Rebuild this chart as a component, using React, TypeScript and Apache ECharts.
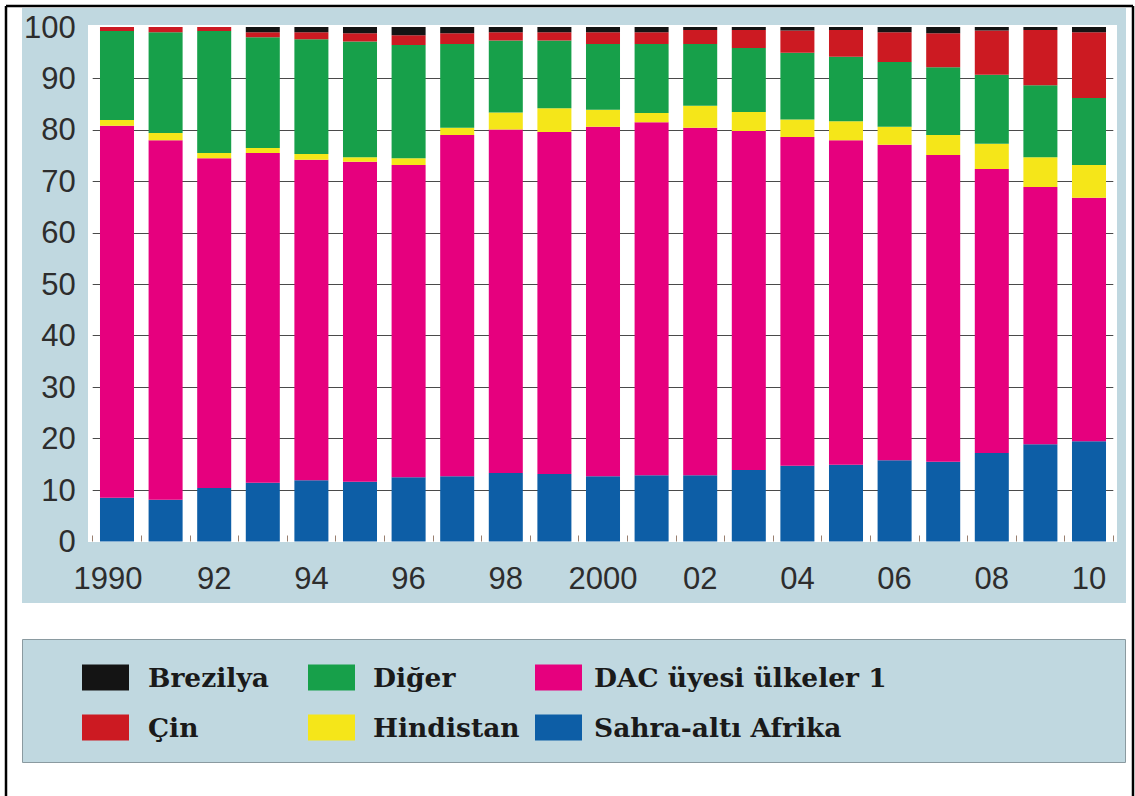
import React, { useEffect, useRef } from "react";
import * as echarts from "echarts";

const years = ["1990","1991","1992","1993","1994","1995","1996","1997","1998","1999","2000","2001","2002","2003","2004","2005","2006","2007","2008","2009","2010"];
const tickLabels = ["1990","","92","","94","","96","","98","","2000","","02","","04","","06","","08","","10"];
const yTicks = [0, 10, 20, 30, 40, 50, 60, 70, 80, 90, 100];

const sahraAltiAfrika = [8.5, 8.1, 10.4, 11.4, 11.9, 11.6, 12.5, 12.7, 13.3, 13.1, 12.7, 12.9, 12.9, 13.9, 14.7, 14.9, 15.8, 15.5, 17.2, 18.9, 19.5];
const dacUyesi = [72.3, 69.9, 64.1, 64.1, 62.3, 62.2, 60.7, 66.3, 66.8, 66.5, 67.9, 68.6, 67.5, 65.9, 63.9, 63.1, 61.3, 59.6, 55.2, 50.0, 47.3];
const hindistan = [1.1, 1.4, 1.0, 1.0, 1.1, 0.9, 1.3, 1.4, 3.3, 4.6, 3.3, 1.8, 4.3, 3.7, 3.4, 3.7, 3.5, 3.9, 4.9, 5.8, 6.4];
const diger = [17.3, 19.6, 23.7, 21.5, 22.3, 22.5, 22.0, 16.3, 14.0, 13.2, 12.8, 13.4, 12.0, 12.4, 13.0, 12.5, 12.6, 13.2, 13.4, 14.0, 13.0];
const cin = [0.8, 1.0, 0.8, 1.0, 1.4, 1.6, 1.9, 2.1, 1.6, 1.6, 2.3, 2.3, 2.7, 3.5, 4.3, 5.2, 5.8, 6.6, 8.6, 10.7, 12.8];
const brezilya = [0, 0, 0, 1.0, 1.0, 1.2, 1.6, 1.2, 1.0, 1.0, 1.0, 1.0, 0.6, 0.6, 0.7, 0.6, 1.0, 1.2, 0.7, 0.6, 1.0];

const seriesDefs = [
  { name: "Sahra-altı Afrika", data: sahraAltiAfrika, color: "#0d5ea6" },
  { name: "DAC üyesi ülkeler 1", data: dacUyesi, color: "#e6007e" },
  { name: "Hindistan", data: hindistan, color: "#f5e619" },
  { name: "Diğer", data: diger, color: "#17a04a" },
  { name: "Çin", data: cin, color: "#cc1a22" },
  { name: "Brezilya", data: brezilya, color: "#141414" },
];

const legendCols = [
  { names: ["Brezilya", "Çin"], left: 82, pad: 14 },
  { names: ["Diğer", "Hindistan"], left: 308, pad: 13 },
  { names: ["DAC üyesi ülkeler 1", "Sahra-altı Afrika"], left: 535, pad: 7 },
];

export default function App() {
  const ref = useRef<HTMLDivElement>(null);
  useEffect(() => {
    if (!ref.current) return;
    const chart = echarts.init(ref.current, null, { renderer: "svg" });
    const panel = "#c0d8e0";
    chart.setOption({
      animation: false,
      backgroundColor: "#ffffff",
      graphic: [
        { type: "rect", z: -10, shape: { x: 22, y: 8, width: 1104, height: 595 }, style: { fill: panel } },
        { type: "rect", z: -9, shape: { x: 88, y: 25, width: 1029, height: 517 }, style: { fill: "#ffffff" } },
        { type: "rect", z: -10, shape: { x: 22.5, y: 639.5, width: 1103, height: 123 }, style: { fill: panel, stroke: "#8a9aa0", lineWidth: 1 } },
        { type: "line", shape: { x1: 6, y1: 6, x2: 1133, y2: 6 }, style: { stroke: "#000", lineWidth: 2.5 } },
        { type: "line", shape: { x1: 6, y1: 6, x2: 6, y2: 796 }, style: { stroke: "#000", lineWidth: 2.5 } },
        { type: "line", shape: { x1: 1133, y1: 6, x2: 1133, y2: 796 }, style: { stroke: "#000", lineWidth: 2.5 } },
      ],
      legend: legendCols.map((c) => ({
        data: c.names,
        orient: "vertical",
        left: c.left,
        top: 664,
        itemWidth: 47,
        itemHeight: 26,
        itemGap: 23,
        icon: "rect",
        selectedMode: false,
        padding: 0,
        formatter: (n: string) => `{t|${n}}`,
        textStyle: {
          rich: {
            t: {
              fontFamily: "DejaVu Serif",
              fontWeight: "bold",
              fontSize: 26.5,
              color: "#1a1a1a",
              padding: [0, 0, 0, c.pad],
            },
          },
        },
      })),
      grid: { left: 92.7, right: 21.7, top: 27, bottom: 254.5, containLabel: false },
      xAxis: {
        type: "category",
        data: years,
        axisLine: { show: false },
        axisTick: { show: true, inside: true, length: 6, interval: 0, lineStyle: { color: "#9a8070", width: 1 } },
        axisLabel: {
          interval: 0,
          margin: 21,
          fontFamily: "Liberation Sans",
          fontSize: 31,
          color: "#2d2d2d",
          formatter: (v: string, i: number) => (i === 0 ? `{f|${tickLabels[i]}}` : tickLabels[i]),
          rich: { f: { fontFamily: "Liberation Sans", fontSize: 31, color: "#2d2d2d", padding: [0, 18, 0, 0] } },
        },
      },
      yAxis: {
        type: "value",
        min: yTicks[0],
        max: yTicks[yTicks.length - 1],
        interval: 10,
        axisLine: { show: false },
        axisTick: { show: false },
        axisLabel: { margin: 17, fontFamily: "Liberation Sans", fontSize: 31, color: "#2d2d2d", verticalAlign: "middle", padding: [4, 0, 0, 0] },
        splitLine: { show: true, showMinLine: false, showMaxLine: false, lineStyle: { color: "#4a4a4a", width: 1.2 } },
      },
      series: seriesDefs.map((s) => ({
        name: s.name,
        type: "bar",
        stack: "total",
        barWidth: "70%",
        data: s.data,
        itemStyle: { color: s.color },
      })),
    });
    return () => chart.dispose();
  }, []);
  return <div ref={ref} style={{ position: "fixed", left: 0, top: 0, width: 1135, height: 796 }} />;
}
